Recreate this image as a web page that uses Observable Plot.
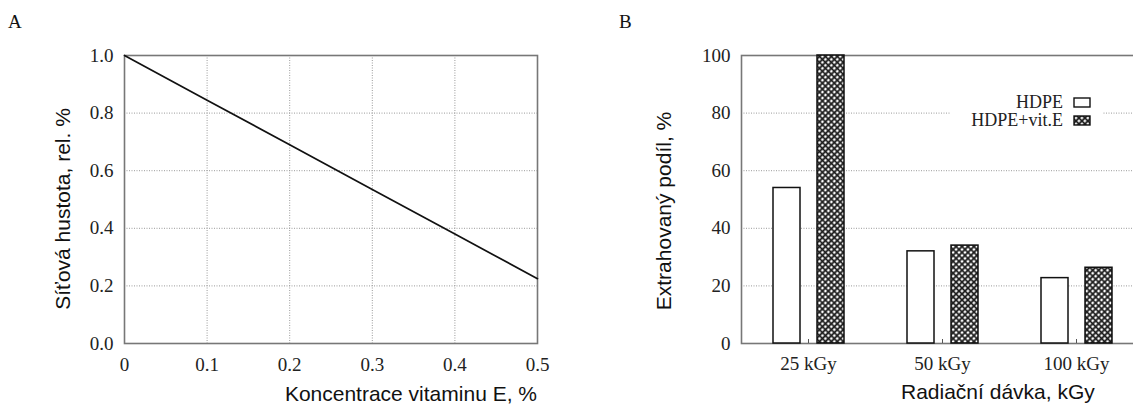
<!DOCTYPE html>
<html>
<head>
<meta charset="utf-8">
<script src="https://cdn.jsdelivr.net/npm/d3@7"></script>
<script src="https://cdn.jsdelivr.net/npm/@observablehq/plot@0.6"></script>
<style>
  html, body { margin: 0; padding: 0; background: #fff; overflow: hidden; }
  #wrap { position: relative; width: 1133px; height: 405px; overflow: hidden; background: #fff; }
  #wrap svg.plot { position: absolute; top: 0; }
  .panel { position: absolute; font-family: "Liberation Serif", "Times New Roman", serif; font-size: 19px; color: #111; line-height: 1; }
  .title { position: absolute; font-family: "Liberation Sans", Arial, sans-serif; font-size: 21px; color: #111; white-space: nowrap; line-height: 1; }
  .ytitle { transform: translate(-50%, -50%) rotate(-90deg); }
  #legend { position: absolute; left: 950px; top: 92px; width: 152px; height: 38px; background: #fff;
            font-family: "Liberation Serif", "Times New Roman", serif; font-size: 18px; color: #222; }
  #legend .row { position: absolute; right: 11px; height: 16px; line-height: 16px; display: flex; align-items: center; gap: 10px; white-space: nowrap; }
  #legend .row span { line-height: 16px; height: 16px; display: inline-block; }
</style>
</head>
<body>
<div id="wrap"></div>
<script>
// ---------- Panel A data ----------
const concA = [0, 0.1, 0.2, 0.3, 0.4, 0.5];
const densA = [1.0, 0.845, 0.69, 0.535, 0.38, 0.225];
const xTicksA = [0, 0.1, 0.2, 0.3, 0.4, 0.5];
const xTickLabelsA = ["0", "0.1", "0.2", "0.3", "0.4", "0.5"];
const yTicksA = [0, 0.2, 0.4, 0.6, 0.8, 1.0];
const yTickLabelsA = ["0.0", "0.2", "0.4", "0.6", "0.8", "1.0"];

// ---------- Panel B data ----------
const doses = ["25 kGy", "50 kGy", "100 kGy"];
const seriesB = ["HDPE", "HDPE+vit.E"];
const hdpe = [54, 32, 22.7];
const hdpeVitE = [100, 34, 26.3];
const yTicksB = [0, 20, 40, 60, 80, 100];
const yTickLabelsB = ["0", "20", "40", "60", "80", "100"];
const gridB = [20, 40, 60, 80];

const texts = {
  panelA: "A", panelB: "B",
  xTitleA: "Koncentrace vitaminu E, %",
  yTitleA: "Síťová hustota, rel. %",
  xTitleB: "Radiační dávka, kGy",
  yTitleB: "Extrahovaný podíl, %"
};

const serif = "'Liberation Serif', 'Times New Roman', serif";
const gridStyle = { stroke: "#9a9a9a", strokeOpacity: 1, strokeWidth: 1, strokeDasharray: "1,1.5" };
const frameStyle = { stroke: "#777", strokeWidth: 1.6 };

const wrap = document.getElementById("wrap");

// ---------- Panel A ----------
const dataA = concA.map((c, i) => ({ c, d: densA[i] }));
const plotA = Plot.plot({
  width: 570, height: 405,
  marginLeft: 124, marginRight: 33, marginTop: 55, marginBottom: 62,
  style: { fontFamily: serif, fontSize: "19px", color: "#222", background: "transparent", maxWidth: "none" },
  x: { domain: [0, 0.5] },
  y: { domain: [0, 1] },
  marks: [
    Plot.gridX(xTicksA, gridStyle),
    Plot.gridY(yTicksA, gridStyle),
    Plot.frame(frameStyle),
    Plot.line(dataA, { x: "c", y: "d", stroke: "#111", strokeWidth: 1.7 }),
    Plot.axisX(xTicksA, { tickSize: 0, tickPadding: 14, label: null, tickFormat: d => xTickLabelsA[xTicksA.indexOf(d)] }),
    Plot.axisY(yTicksA, { tickSize: 0, tickPadding: 11, label: null, tickFormat: d => yTickLabelsA[yTicksA.indexOf(d)] })
  ]
});
plotA.classList.add("plot");
plotA.style.left = "0px";
wrap.appendChild(plotA);

// ---------- Panel B ----------
const barsHdpe = doses.map((g, i) => ({ g, s: seriesB[0], v: hdpe[i] }));
const barsVit = doses.map((g, i) => ({ g, s: seriesB[1], v: hdpeVitE[i] }));
const plotB = Plot.plot({
  width: 580, height: 405,
  marginLeft: 171, marginRight: 7, marginTop: 55, marginBottom: 62,
  style: { fontFamily: serif, fontSize: "19px", color: "#222", background: "transparent", maxWidth: "none" },
  x: { domain: doses, padding: 0 },
  y: { domain: [0, 100] },
  marks: [
    Plot.gridY(gridB, gridStyle),
    Plot.frame(frameStyle),
    Plot.barY(barsHdpe, { x: "g", y: "v", fill: "white", stroke: "#111", strokeWidth: 1.5, insetLeft: 32, insetRight: 75 }),
    Plot.barY(barsVit, { x: "g", y: "v", fill: "url(#xhatch)", stroke: "#111", strokeWidth: 1.5, insetLeft: 76, insetRight: 31 }),
    Plot.axisX({ tickSize: 0, tickPadding: 13, label: null }),
    Plot.axisX({ tickSize: 4, dy: -4, label: null, tickFormat: () => "", stroke: "#555" }),
    Plot.axisY(yTicksB, { tickSize: 0, tickPadding: 11, label: null, tickFormat: d => yTickLabelsB[yTicksB.indexOf(d)] })
  ]
});
plotB.classList.add("plot");
plotB.style.left = "570px";
// crosshatch pattern
const defs = d3.select(plotB).insert("defs", ":first-child");
const pat = defs.append("pattern").attr("id", "xhatch").attr("patternUnits", "userSpaceOnUse")
  .attr("width", 4.2).attr("height", 4.2).attr("patternTransform", "rotate(45)");
pat.append("rect").attr("width", 4.2).attr("height", 4.2).attr("fill", "#fff");
pat.append("path").attr("d", "M0,2.1H4.2M2.1,0V4.2").attr("stroke", "#1a1a1a").attr("stroke-width", 1.8);
wrap.appendChild(plotB);

// ---------- Text overlays ----------
function addDiv(cls, text, css) {
  const el = document.createElement("div");
  el.className = cls;
  el.textContent = text;
  Object.assign(el.style, css);
  wrap.appendChild(el);
  return el;
}
addDiv("panel", texts.panelA, { left: "8px", top: "12px" });
addDiv("panel", texts.panelB, { left: "619px", top: "12px" });
addDiv("title ytitle", texts.yTitleA, { left: "62px", top: "209px" });
addDiv("title ytitle", texts.yTitleB, { left: "663px", top: "211px" });
const xa = addDiv("title", texts.xTitleA, { top: "383px" });
xa.style.left = (537 - xa.getBoundingClientRect().width) + "px";
addDiv("title", texts.xTitleB, { left: "901px", top: "381px" });

// ---------- Legend ----------
const legend = document.createElement("div");
legend.id = "legend";
const fills = ["#fff", "url(#xhatch)"];
seriesB.forEach((s, i) => {
  const row = document.createElement("div");
  row.className = "row";
  row.style.top = (2 + i * 18) + "px";
  const span = document.createElement("span");
  span.textContent = s;
  row.appendChild(span);
  const sw = document.createElementNS("http://www.w3.org/2000/svg", "svg");
  sw.setAttribute("width", 18); sw.setAttribute("height", 11);
  const r = document.createElementNS("http://www.w3.org/2000/svg", "rect");
  r.setAttribute("x", 1); r.setAttribute("y", 1); r.setAttribute("width", 16); r.setAttribute("height", 9);
  r.setAttribute("fill", fills[i]); r.setAttribute("stroke", "#111"); r.setAttribute("stroke-width", 1.4);
  sw.appendChild(r);
  row.appendChild(sw);
  legend.appendChild(row);
});
wrap.appendChild(legend);
</script>
</body>
</html>
